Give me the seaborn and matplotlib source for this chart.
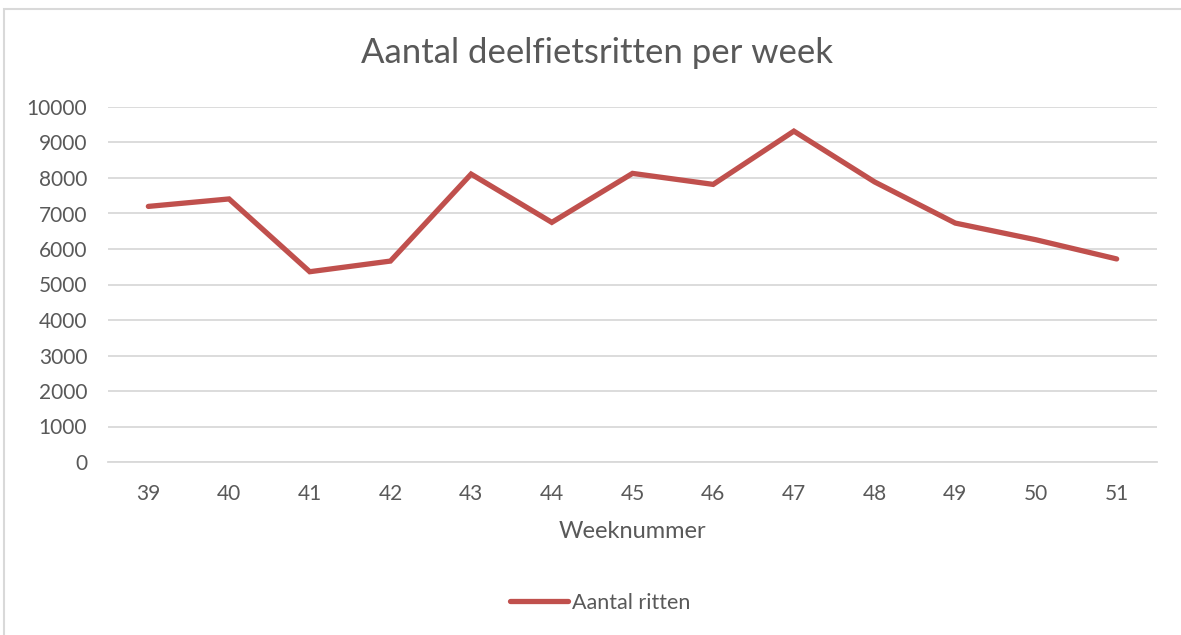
import matplotlib
matplotlib.use("Agg")
import matplotlib.pyplot as plt
import seaborn as sns
import pandas as pd
from matplotlib.patches import Rectangle

# data
weeks = [39, 40, 41, 42, 43, 44, 45, 46, 47, 48, 49, 50, 51]
ritten = [7200, 7410, 5360, 5660, 8110, 6750, 8130, 7820, 9320, 7890, 6730, 6260, 5720]
series_name = "Aantal ritten"

df = pd.DataFrame({"week": weeks, series_name: ritten})

sns.set_theme(style="white")
plt.rcParams["font.family"] = ["Lato", "DejaVu Sans"]
text_color = "#595959"
grid_color = "#d9d9d9"
line_color = "#c0504d"

fig = plt.figure(figsize=(11.81, 6.35), dpi=100)
ax = fig.add_axes([108 / 1181, 1 - 462 / 635, 1049 / 1181, 355 / 635])

sns.lineplot(data=df, x="week", y=series_name, color=line_color, linewidth=3.8,
             label=series_name, ax=ax, solid_capstyle="round", legend=False)
ax.lines[0].set_solid_joinstyle("miter")

ax.set_xlim(38.5, 51.5)
ax.set_ylim(0, 10000)
ax.set_xticks(weeks)
ax.set_yticks(range(0, 10001, 1000))
ax.yaxis.grid(True, color=grid_color, linewidth=1.3)
ax.set_axisbelow(True)
for s in ["left", "right", "top"]:
    ax.spines[s].set_visible(False)
ax.spines["bottom"].set_color(grid_color)
ax.spines["bottom"].set_linewidth(1.3)
ax.tick_params(axis="both", length=0, labelsize=15, colors=text_color)
ax.tick_params(axis="y", pad=15)
ax.tick_params(axis="x", pad=16)

ax.set_xlabel("Weeknummer", fontsize=17, color=text_color, labelpad=12)
ax.set_ylabel("")
fig.text(597 / 1181, 1 - 53 / 635, "Aantal deelfietsritten per week",
         ha="center", va="center", fontsize=25, color=text_color)

leg = fig.legend(handles=ax.lines[:1], labels=[series_name], loc="center",
                 bbox_to_anchor=(600 / 1181, 1 - 603 / 635), frameon=False,
                 fontsize=15.5, handlelength=2.7, handletextpad=0.2, labelcolor=text_color)

# light chart border like the office chart frame
fig.patches.append(Rectangle((4 / 1181, -0.05), 1.1, 1 - 9 / 635 + 0.05,
                             transform=fig.transFigure, fill=False,
                             edgecolor=grid_color, linewidth=1.5))

fig.savefig("out.png", dpi=100)
